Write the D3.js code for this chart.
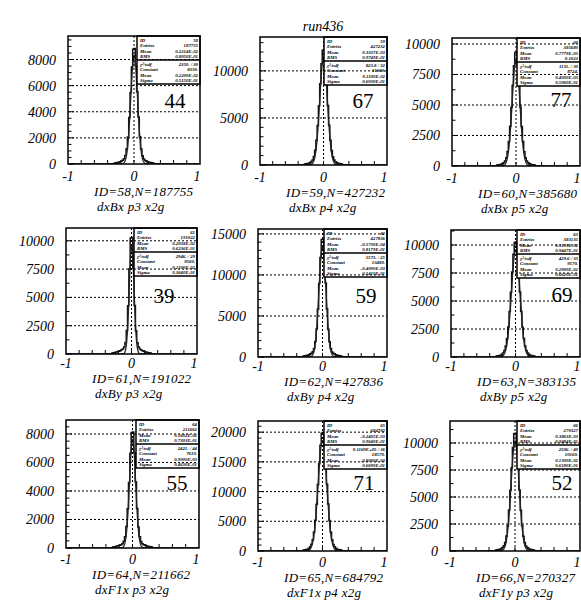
<!DOCTYPE html>
<html>
<head>
<meta charset="utf-8">
<script src="https://cdn.jsdelivr.net/npm/d3@7"></script>
<style>
  body { margin: 0; background: #fff; }
</style>
</head>
<body>
<svg id="chart" width="581" height="608"></svg>
<script>
// histogram ids, entries and titles
const panelIds = [58, 59, 60, 61, 62, 63, 64, 65, 66];
const entries = [187755, 427232, 385680, 191022, 427836, 383135, 211662, 684792, 270327];
const titles = ["dxBx p3 x2g", "dxBx p4 x2g", "dxBx p5 x2g",
                "dxBy p3 x2g", "dxBy p4 x2g", "dxBy p5 x2g",
                "dxF1x p3 x2g", "dxF1x p4 x2g", "dxF1y p3 x2g"];
const notes = ["44", "67", "77", "39", "59", "69", "55", "71", "52"];

// y axis ranges
const yMax = [9800, 13600, 10490, 11130, 15600, 11340, 8980, 21880, 12040];
const yStep = [2000, 5000, 2500, 2500, 5000, 2500, 2000, 5000, 2500];
const yMinor = [4, 5, 2, 2, 5, 2, 4, 5, 2];
const xTickLabels = ["-1", "0", "1"];

// bins of 0.02 from -0.30 to 0.30 (outside is ~empty)
const binLo = -0.30, binWidth = 0.02;
const counts58 = [74, 90, 112, 140, 175, 215, 290, 400, 660, 1170, 2060, 3560, 5480, 7420, 8790, 8850, 7496, 5540, 3602, 2089, 1151, 637, 381, 274, 204, 168, 133, 106, 88, 71];
const counts59 = [100, 125, 150, 190, 262, 365, 540, 900, 1560, 2640, 4200, 6300, 8640, 10760, 12180, 12230, 10811, 8683, 6335, 4232, 2617, 1541, 881, 526, 355, 257, 183, 147, 122, 98];
const counts60 = [77, 95, 115, 143, 200, 275, 410, 685, 1190, 2010, 3250, 4810, 6600, 8220, 9300, 9340, 8257, 6631, 4838, 3232, 1999, 1177, 672, 402, 271, 196, 140, 112, 93, 75];
const counts61 = [84, 115, 136, 168, 198, 240, 292, 365, 450, 620, 1010, 2080, 4270, 7520, 10250, 10300, 7571, 4295, 2060, 999, 608, 443, 361, 288, 237, 196, 165, 134, 113, 82];
const counts62 = [117, 146, 175, 220, 276, 335, 450, 630, 1050, 1890, 3420, 5830, 8960, 12120, 14320, 14390, 12188, 9008, 5857, 3396, 1871, 1036, 619, 446, 331, 273, 216, 173, 144, 115];
const counts63 = [84, 105, 125, 158, 240, 365, 585, 990, 1660, 2680, 4060, 5780, 7580, 9170, 10220, 10270, 9212, 7610, 5803, 4077, 2660, 1643, 976, 575, 359, 236, 154, 123, 103, 82];
const counts64 = [67, 83, 100, 132, 158, 190, 232, 306, 465, 795, 1500, 2750, 4600, 6640, 8100, 8140, 6675, 4624, 2768, 1481, 781, 456, 301, 228, 187, 155, 130, 98, 81, 65];
const counts65 = [161, 201, 242, 305, 465, 705, 1130, 1910, 3210, 5190, 7870, 11200, 14690, 17780, 19820, 19900, 17850, 14746, 11244, 7900, 5154, 3184, 1891, 1114, 697, 458, 299, 239, 199, 159];
const counts66 = [88, 110, 133, 166, 232, 320, 475, 795, 1390, 2350, 3790, 5620, 7700, 9590, 10850, 10900, 9636, 7739, 5646, 3771, 2333, 1373, 785, 469, 316, 229, 164, 131, 109, 87];
const allCounts = [counts58, counts59, counts60, counts61, counts62, counts63, counts64, counts65, counts66];

// gaussian fit parameters and stat box numbers
const fitConst = [8330, 11360, 8724, 9560, 13480, 9570, 7610, 18570, 10160];
const fitMean = [0.0022, 0.0011, 0.0004, 0.0021, -0.0004, 0.0029, 0.0009, -0.0008, 0.0013];
const fitSigma = [0.0515, 0.0603, 0.0596, 0.0364, 0.0541, 0.0662, 0.0463, 0.0669, 0.0618];
const statMean = ["0.2214E-02", "0.3337E-03", "0.7779E-03", "0.2038E-02", "-0.5730E-04", "0.3193E-02", "0.1602E-02", "-0.2405E-03", "0.3863E-03"];
const statRms = ["0.8050E-01", "0.9749E-01", "0.1023", "0.6236E-01", "0.8179E-01", "0.9447E-01", "0.7303E-01", "0.9640E-01", "0.9484E-01"];
const chi2 = ["2350. / 30", "823.8 / 32", "1131. / 30", "2946. / 29", "1573. / 25", "429.6 / 33", "2421. / 44", "0.1169E+05 / 36", "2506. / 40"];

// page layout
const frames = [
  { l: 68, t: 36, r: 200, b: 164 }, { l: 260, t: 37, r: 387, b: 165 }, { l: 452, t: 38, r: 580, b: 166 },
  { l: 66, t: 228, r: 197, b: 354 }, { l: 258, t: 229, r: 387, b: 357 }, { l: 451, t: 230, r: 580, b: 357 },
  { l: 66, t: 420, r: 199, b: 548 }, { l: 258, t: 421, r: 387, b: 551 }, { l: 450, t: 421, r: 580, b: 551 }
];
const rowDy = [[17, 32, 46.5], [14, 29, 43.5], [16, 31, 45.5]];
const noteDx = [-25, -24, -19, -33, -21, -18, -22, -23, -18];
const noteDy = [72, 71, 69, 75, 74, 72, 70, 69, 69];

const serif = "'Liberation Serif','Times New Roman',serif";
const svg = d3.select("#chart");

svg.append("text")
  .attr("x", 323).attr("y", 31)
  .attr("text-anchor", "middle")
  .attr("font-family", serif).attr("font-style", "italic").attr("font-size", 14)
  .text("run436");

function pawE(v) {
  if (v === 0) return "0.0000E+00";
  var e = Math.floor(Math.log10(Math.abs(v))) + 1;
  var m = v / Math.pow(10, e);
  var es = (e < 0 ? "-" : "+") + String(Math.abs(e)).padStart(2, "0");
  return m.toFixed(4) + "E" + es;
}

frames.forEach(function(f, i) {
  var row = Math.floor(i / 3);
  var g = svg.append("g").attr("class", "panel");
  var x = d3.scaleLinear().domain([-1, 1]).range([f.l, f.r]);
  var y = d3.scaleLinear().domain([0, yMax[i]]).range([f.b, f.t]);

  var clipId = "clip" + i;
  g.append("clipPath").attr("id", clipId)
    .append("rect").attr("x", f.l).attr("y", f.t).attr("width", f.r - f.l).attr("height", f.b - f.t);

  // y ticks (inside, on the left edge)
  var minorStep = yStep[i] / yMinor[i];
  d3.range(0, yMax[i], minorStep).forEach(function(v) {
    var major = Math.abs(v / yStep[i] - Math.round(v / yStep[i])) < 1e-6;
    g.append("line")
      .attr("x1", f.l).attr("x2", f.l + (major ? 6 : 3.5))
      .attr("y1", y(v)).attr("y2", y(v))
      .attr("stroke", "#000").attr("stroke-width", 1);
  });
  // x ticks every 0.2
  d3.range(-0.8, 0.81, 0.2).forEach(function(v) {
    g.append("line")
      .attr("x1", x(v)).attr("x2", x(v))
      .attr("y1", f.b).attr("y2", f.b - 4)
      .attr("stroke", "#000").attr("stroke-width", 1);
  });

  // histogram
  var counts = allCounts[i];
  var pts = [{ x: -1, y: 0 }];
  counts.forEach(function(c, k) { pts.push({ x: binLo + k * binWidth, y: c }); });
  pts.push({ x: binLo + counts.length * binWidth, y: 0 });
  pts.push({ x: 1, y: 0 });
  var histLine = d3.line().x(d => x(d.x)).y(d => y(d.y)).curve(d3.curveStepAfter);
  g.append("path").attr("d", histLine(pts))
    .attr("clip-path", "url(#" + clipId + ")")
    .attr("fill", "none").attr("stroke", "#111").attr("stroke-width", 1.5);

  // gaussian fit
  var fx = d3.range(-0.4, 0.4001, 0.004);
  var fitPts = fx.map(function(v) {
    var z = (v - fitMean[i]) / fitSigma[i];
    return { x: v, y: fitConst[i] * Math.exp(-0.5 * z * z) };
  });
  var fitLine = d3.line().x(d => x(d.x)).y(d => y(d.y)).curve(d3.curveLinear);
  g.append("path").attr("d", fitLine(fitPts))
    .attr("clip-path", "url(#" + clipId + ")")
    .attr("fill", "none").attr("stroke", "#222").attr("stroke-width", 1.3);

  // stats box
  var bx = f.r - 63, bw = 63, bh = 48, by = f.t;
  g.append("rect").attr("x", bx).attr("y", by).attr("width", bw).attr("height", bh)
    .attr("fill", "#fff").attr("stroke", "#000").attr("stroke-width", 1.5);
  g.append("line").attr("x1", bx).attr("x2", bx + bw).attr("y1", by + 24).attr("y2", by + 24)
    .attr("stroke", "#000").attr("stroke-width", 1.5);
  var labels = ["ID", "Entries", "Mean", "RMS", "\u03C7\u00B2/ndf", "Constant", "Mean", "Sigma"];
  var values = [String(panelIds[i]), String(entries[i]), statMean[i], statRms[i],
                chi2[i], Math.round(fitConst[i]) + ".", pawE(fitMean[i]), pawE(fitSigma[i])];
  labels.forEach(function(lab, k) {
    var ty = by + (k < 4 ? 5.5 + k * 5.5 : 29.5 + (k - 4) * 5.5);
    g.append("text").attr("x", bx + 3).attr("y", ty)
      .attr("font-family", serif).attr("font-weight", "bold").attr("font-style", "italic")
      .attr("font-size", 4.8).text(lab);
    g.append("text").attr("x", bx + bw - 2).attr("y", ty)
      .attr("text-anchor", "end")
      .attr("font-family", serif).attr("font-weight", "bold").attr("font-style", "italic")
      .attr("font-size", 4.8).text(values[k]);
  });

  // dotted grid at major values and at x = 0
  d3.range(yStep[i], yMax[i], yStep[i]).forEach(function(v) {
    g.append("line")
      .attr("x1", f.l).attr("x2", f.r).attr("y1", y(v)).attr("y2", y(v))
      .attr("stroke", "#000").attr("stroke-width", 1).attr("stroke-dasharray", "2,2");
  });
  g.append("line")
    .attr("x1", x(0)).attr("x2", x(0)).attr("y1", f.t).attr("y2", f.b)
    .attr("stroke", "#000").attr("stroke-width", 1).attr("stroke-dasharray", "2,2");

  // frame
  g.append("rect").attr("x", f.l).attr("y", f.t).attr("width", f.r - f.l).attr("height", f.b - f.t)
    .attr("fill", "none").attr("stroke", "#000").attr("stroke-width", 1.5);

  // y labels
  d3.range(0, yMax[i], yStep[i]).forEach(function(v) {
    g.append("text")
      .attr("x", f.l - 12).attr("y", y(v) + 5)
      .attr("text-anchor", "end")
      .attr("font-family", serif).attr("font-style", "italic").attr("font-size", 14)
      .text(v);
  });
  // x labels
  [-1, 0, 1].forEach(function(v, k) {
    g.append("text")
      .attr("x", x(v) - (v === 1 ? 3 : 0)).attr("y", f.b + rowDy[row][0])
      .attr("text-anchor", "middle")
      .attr("font-family", serif).attr("font-style", "italic").attr("font-size", 14)
      .text(xTickLabels[k]);
  });

  // captions
  g.append("text")
    .attr("x", f.l + 26).attr("y", f.b + rowDy[row][1])
    .attr("font-family", serif).attr("font-style", "italic").attr("font-size", 13)
    .attr("letter-spacing", 0.3)
    .text("ID=" + panelIds[i] + ",N=" + entries[i]);
  g.append("text")
    .attr("x", f.l + 29).attr("y", f.b + rowDy[row][2])
    .attr("font-family", serif).attr("font-style", "italic").attr("font-size", 13)
    .attr("letter-spacing", 0.3)
    .text(titles[i]);

  // handwritten number
  g.append("text")
    .attr("x", f.r + noteDx[i]).attr("y", f.t + noteDy[i])
    .attr("text-anchor", "middle")
    .attr("font-family", serif).attr("font-size", 21)
    .text(notes[i]);
});
</script>
</body>
</html>
